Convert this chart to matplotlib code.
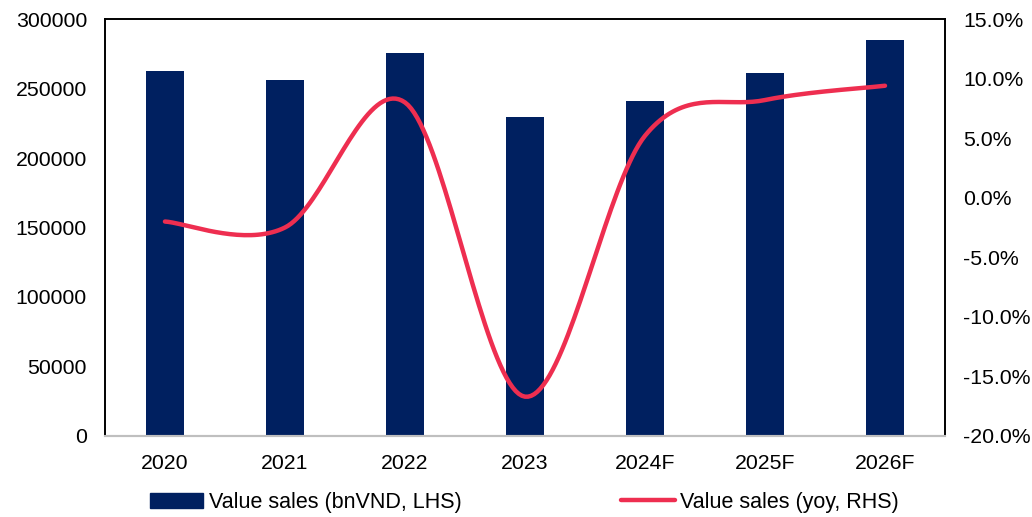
import numpy as np
import matplotlib
matplotlib.use("Agg")
import matplotlib.pyplot as plt
from matplotlib.lines import Line2D
from matplotlib.patches import Patch
from matplotlib.ticker import FuncFormatter

plt.rcParams['font.family'] = ['Liberation Sans', 'DejaVu Sans']

years = ['2020', '2021', '2022', '2023', '2024F', '2025F', '2026F']
value_sales = [262500, 256000, 275500, 229500, 241000, 261000, 285000]
yoy = [-2.0, -2.5, 8.0, -16.7, 5.2, 8.2, 9.4]

bar_color = '#002060'
line_color = '#EE2E50'


def smooth(x, y, n=40):
    # Catmull-Rom style smoothing like Excel's smoothed line
    x = np.asarray(x, float)
    y = np.asarray(y, float)
    px = np.concatenate([[x[0]], x, [x[-1]]])
    py = np.concatenate([[y[0]], y, [y[-1]]])
    xs, ys = [], []
    t = np.linspace(0, 1, n)
    for i in range(1, len(px) - 2):
        p0, p1, p2, p3 = (np.array([px[j], py[j]]) for j in range(i - 1, i + 3))
        c1 = p1 + (p2 - p0) / 6
        c2 = p2 - (p3 - p1) / 6
        b = ((1 - t) ** 3)[:, None] * p1 + (3 * (1 - t) ** 2 * t)[:, None] * c1 \
            + (3 * (1 - t) * t ** 2)[:, None] * c2 + (t ** 3)[:, None] * p2
        xs.extend(b[:, 0])
        ys.extend(b[:, 1])
    return np.array(xs), np.array(ys)


fig = plt.figure(figsize=(10.32, 5.17), dpi=100)
ax = fig.add_axes([0.1017, 0.1567, 0.8140, 0.8065])
x = np.arange(len(years))
ax.bar(x, value_sales, width=0.31, color=bar_color, zorder=2)
ax.set_xlim(-0.5, len(years) - 0.5)
ax.set_ylim(0, 300000)
ax.set_yticks(np.arange(0, 300001, 50000))
ax.set_xticks(x)
ax.set_xticklabels(years)
ax.tick_params(length=0, labelsize=15.3, pad=13)

ax2 = ax.twinx()
sx, sy = smooth(x, yoy)
ax2.plot(sx, sy, color=line_color, lw=3.2, solid_capstyle='round', zorder=3)
ax2.set_ylim(-20, 15)
ax2.set_yticks(np.arange(-20, 15.1, 5))
ax2.yaxis.set_major_formatter(FuncFormatter(lambda v, p: f'{v:.1f}%'))
ax2.tick_params(length=0, labelsize=15.3, pad=13)

for a in (ax, ax2):
    for s in ('left', 'right', 'top'):
        a.spines[s].set_color('black')
        a.spines[s].set_linewidth(1.2)
    a.spines['bottom'].set_color('#BFBFBF')
    a.spines['bottom'].set_linewidth(1.5)

handles = [Patch(color=bar_color), Line2D([], [], color=line_color, lw=3.2, solid_capstyle='round')]
labels = ['Value sales (bnVND, LHS)', 'Value sales (yoy, RHS)']
fig.legend(handles, labels, loc='center', bbox_to_anchor=(0.508, 0.028), ncol=2,
           frameon=False, fontsize=15.5, handlelength=2.5, handleheight=0.7,
           handletextpad=0.25, columnspacing=7.4)

fig.savefig('out.png', dpi=100)
